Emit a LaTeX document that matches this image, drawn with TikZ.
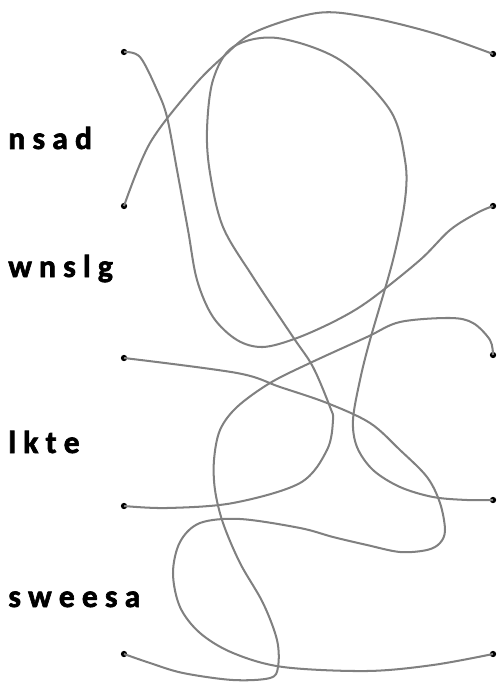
\documentclass[tikz,border=0pt]{standalone}
\usepackage{fontspec}
\setmainfont{Carlito}[BoldFeatures={FakeBold=2}]
\usetikzlibrary{positioning}

\begin{document}
\begin{tikzpicture}[
    x=0.02cm, y=-0.02cm,
    dot/.style={circle, fill=black, inner sep=0pt, minimum size=3.6pt},
    word/.style={anchor=base west, inner sep=0pt, font=\bfseries\fontsize{18}{20}\selectfont},
    wire/.style={draw=black!50, line width=1.15pt, smooth, tension=0.55}
]
\useasboundingbox (0,0) rectangle (499,686);

% scrambled words
\node[word] (w1) at (8,149) {n s a d};
\node[word] (w2) at (8,277) {w n s l g};
\node[word] (w3) at (8,453) {l k t e};
\node[word] (w4) at (8,607) {s w e e s a};

% end points
\node[dot] (l1) at (124,52) {};
\node[dot] (l2) at (124,206) {};
\node[dot] (l3) at (124,358) {};
\node[dot] (l4) at (124,506) {};
\node[dot] (l5) at (124,654) {};
\node[dot] (r1) at (493,54) {};
\node[dot] (r2) at (493,206) {};
\node[dot] (r3) at (493,355) {};
\node[dot] (r4) at (493,500) {};
\node[dot] (r5) at (493,654) {};

% tangled lines
\draw[wire] plot coordinates {(l1.center) (140,57) (157,90) (167,117) (177,170) (188,230)
    (197,280) (213,317) (237,340) (263,347) (297,338) (337,320) (370,300) (420,260) (450,230)
    (477,213) (r2.center)};
\draw[wire] plot coordinates {(l2.center) (150,143) (193,87) (223,57) (255,32) (317,13)
    (367,17) (433,33) (r1.center)};
\draw[wire] plot coordinates {(l4.center) (167,508) (233,503) (300,483) (327,450) (333,420)
    (330,407) (313,367) (293,337) (253,277) (223,227) (210,173) (207,130) (213,80) (233,47)
    (277,38) (340,60) (390,110) (405,160) (405,200) (393,260) (370,340) (360,380) (353,420)
    (357,447) (373,470) (400,487) (433,497) (467,500) (r4.center)};
\draw[wire] plot coordinates {(l3.center) (237,373) (280,387) (327,403) (370,423) (400,450)
    (427,477) (440,503) (445,530) (440,543) (427,550) (400,552) (367,545) (333,537) (300,528)
    (240,519) (200,523) (180,542) (173,573) (180,607) (200,633) (233,653) (283,667) (367,671)
    (433,665) (r5.center)};
\draw[wire] plot coordinates {(r3.center) (490,340) (473,323) (450,318) (400,322) (367,337)
    (310,363) (270,383) (237,407) (220,430) (214,460) (215,490) (223,523) (240,563) (263,603)
    (277,640) (278,667) (270,678) (233,680) (183,673) (150,663) (l5.center)};
\end{tikzpicture}
\end{document}
